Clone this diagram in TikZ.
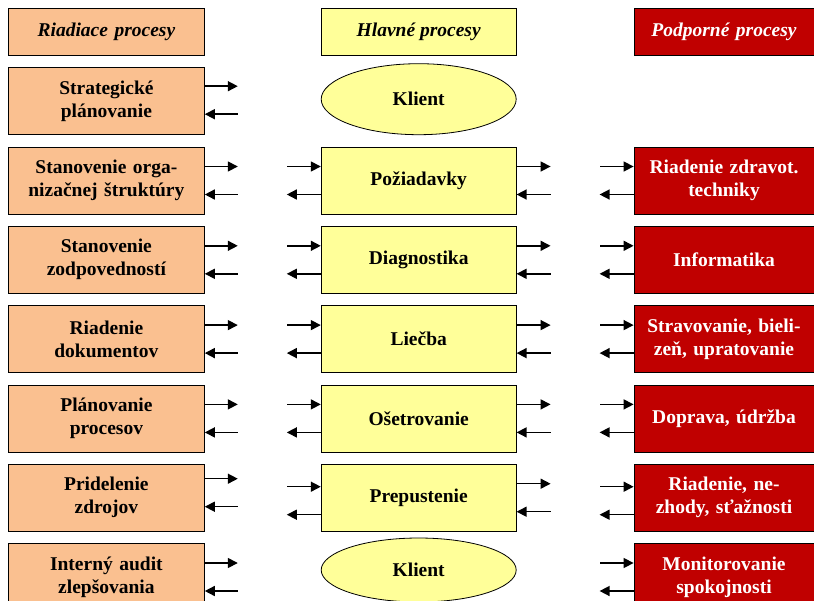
\documentclass[tikz,border=0pt]{standalone}
\usepackage{fontspec}
\setmainfont{Liberation Serif}
\usetikzlibrary{arrows.meta,positioning,shapes.geometric}
\definecolor{peach}{HTML}{FAC090}
\definecolor{lemon}{HTML}{FFFF99}
\definecolor{darkred}{HTML}{C00000}

\begin{document}
\begin{tikzpicture}[node distance=11.5pt,
  every node/.style={font=\fontsize{19.5}{23}\selectfont\bfseries,align=center,inner sep=1pt},
  box/.style={draw,line width=0.8pt,minimum height=67pt},
  lbox/.style={box,fill=peach,minimum width=196pt,text width=192pt},
  mbox/.style={box,fill=lemon,minimum width=195pt},
  rbox/.style={box,fill=darkred,text=white,minimum width=180pt,text width=178pt},
  head/.style={font=\fontsize{19.5}{23}\selectfont\bfseries\itshape,minimum height=47pt},
  client/.style={ellipse,draw,line width=0.8pt,fill=lemon,minimum width=195pt,minimum height=71pt},
  tostub/.style={line width=1.5pt,-{Triangle[length=10pt,width=10pt]}},
  fromstub/.style={line width=1.5pt,{Triangle[length=10pt,width=10pt]}-}]
\useasboundingbox (0pt,0pt) rectangle (814pt,-600pt);

% headers
\node[lbox,head,anchor=north west] (hl) at (8pt,-8pt) {Riadiace procesy};
\node[mbox,head,right=116pt of hl] (hm) {Hlavné procesy};
\node[rbox,head,right=117pt of hm] (hr) {Podporné procesy};

% riadiace procesy
\node[lbox,below=of hl] (l1) {Strategické\\plánovanie};
\node[lbox,below=of l1] (l2) {Stanovenie orga-\\nizačnej štruktúry};
\node[lbox,below=of l2] (l3) {Stanovenie\\zodpovedností};
\node[lbox,below=of l3] (l4) {Riadenie\\dokumentov};
\node[lbox,below=of l4] (l5) {Plánovanie\\procesov};
\node[lbox,below=of l5] (l6) {Pridelenie\\zdrojov};
\node[lbox,below=of l6] (l7) {Interný audit\\zlepšovania};

% hlavne procesy
\node[mbox,right=116pt of l2] (m2) {Požiadavky};
\node[client,above=of m2] (m1) {Klient};
\node[mbox,below=of m2] (m3) {Diagnostika};
\node[mbox,below=of m3] (m4) {Liečba};
\node[mbox,below=of m4] (m5) {Ošetrovanie};
\node[mbox,below=of m5] (m6) {Prepustenie};
\node[client,below=6pt of m6,minimum height=64pt] (m7) {Klient};

% podporne procesy
\node[rbox,right=117pt of m2] (r2) {Riadenie zdravot.\\techniky};
\node[rbox,below=of r2] (r3) {Informatika};
\node[rbox,below=of r3] (r4) {Stravovanie, bieli-\\zeň, upratovanie};
\node[rbox,below=of r4] (r5) {Doprava, údržba};
\node[rbox,below=of r5] (r6) {Riadenie, ne-\\zhody, sťažnosti};
\node[rbox,below=of r6] (r7) {Monitorovanie\\spokojnosti};

% vstupy a vystupy
\foreach \i/\a/\b in {1/15/-13,2/14/-14,3/14/-14,4/14/-14,5/14/-14,6/19/-9,7/14/-14}{
  \draw[tostub] ([yshift=\a pt]l\i.east) -- ++(33pt,0pt);
  \draw[fromstub] ([yshift=\b pt]l\i.east) -- ++(33pt,0pt);
}
\foreach \i/\a/\b in {2/14/-14,3/14/-14,4/14/-14,5/14/-14,6/11/-17}{
  \draw[fromstub] ([yshift=\a pt]m\i.west) -- ++(-34pt,0pt);
  \draw[tostub] ([yshift=\b pt]m\i.west) -- ++(-34pt,0pt);
  \draw[tostub] ([yshift=14pt]m\i.east) -- ++(34pt,0pt);
  \draw[fromstub] ([yshift=-14pt]m\i.east) -- ++(34pt,0pt);
  \draw[fromstub] ([yshift=\a pt]r\i.west) -- ++(-34pt,0pt);
  \draw[tostub] ([yshift=\b pt]r\i.west) -- ++(-34pt,0pt);
}
\draw[fromstub] ([yshift=14pt]r7.west) -- ++(-34pt,0pt);
\draw[tostub] ([yshift=-14pt]r7.west) -- ++(-34pt,0pt);
\end{tikzpicture}
\end{document}
